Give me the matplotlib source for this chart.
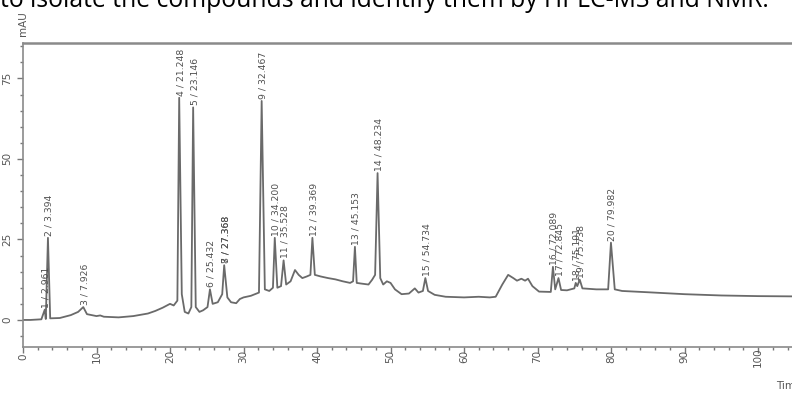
import numpy as np
from matplotlib import pyplot as plt

# baseline of the trace (time in min, signal in mAU)
base_t = [0, 1, 2.5, 3.1, 3.7, 5, 6.5, 7.5, 8.7, 10, 10.5, 11, 13, 15, 17, 18, 19, 20,
          20.5, 21.0, 21.6, 22, 22.5, 22.9, 23.5, 24, 24.5, 25.1, 25.8, 26.5, 27.1, 27.8,
          28.3, 29, 29.5, 30, 31, 32.1, 32.9, 33.5, 34.0, 34.6, 35.1, 35.8, 36.4, 37.0,
          37.5, 38.0, 38.6, 39.1, 39.7, 40.5, 41.5, 42.5, 43.5, 44.5, 44.9, 45.4, 46, 47,
          47.5, 47.9, 48.6, 49, 49.5, 50, 50.6, 51.5, 52.5, 53.3, 53.8, 54.4, 55.1, 56,
          57.5, 60, 62, 63.5, 64.3, 65.2, 66.0, 66.7, 67.2, 67.8, 68.3, 68.7, 69.3, 70.2,
          71.8, 72.4, 73.2, 74, 75, 75.4, 76.1, 78, 79.6, 80.5, 81.5, 85, 90, 95, 100, 106]
base_y = [0, 0, 0.2, 0.3, 0.5, 0.6, 1.5, 2.5, 1.8, 1.2, 1.4, 1.0, 0.8, 1.2, 2.0, 2.8, 3.8, 5.0,
          4.5, 6, 8, 2.5, 2.0, 4, 4, 2.5, 3, 4, 5, 5.5, 8, 7,
          5.5, 5.2, 6.5, 7, 7.5, 8.5, 9.5, 9, 10, 10, 10.5, 11, 12, 15.5,
          14, 13, 13.5, 14, 14, 13.5, 13, 12.6, 12, 11.5, 12, 11.5, 11.3, 11,
          12.5, 14, 13, 11, 12, 11.5, 9.5, 8.0, 8.2, 9.8, 8.5, 9, 9, 7.8,
          7.2, 7.0, 7.2, 7.0, 7.2, 11, 14, 13, 12.2, 12.8, 12.2, 12.8, 10.5, 8.8,
          8.7, 9.5, 9.3, 9.2, 9.8, 10.5, 9.8, 9.5, 9.5, 9.5, 9.0, 8.6, 8.0, 7.6, 7.4, 7.3]

# integrated peaks
peak_ids = [1, 2, 3, 4, 5, 6, 7, 8, 9, 10, 11, 12, 13, 14, 15, 16, 17, 18, 19, 20]
peak_times = [2.961, 3.394, 8.2, 21.248, 23.146, 25.432, 27.368, 27.368, 32.467, 34.25,
              35.45, 39.369, 45.153, 48.234, 54.734, 72.089, 72.845, 75.191, 75.738, 79.982]
peak_rt_text = ['2.961', '3.394', '7.926', '21.248', '23.146', '25.432', '27.368', '27.368',
                '32.467', '34.200', '35.528', '39.369', '45.153', '48.234', '54.734',
                '72.089', '72.845', '75.191', '75.738', '79.982']
peak_heights = [3.2, 25.5, 4.0, 69, 66, 9.5, 17, 17, 68, 25.5, 18.5, 25.5, 22.7, 45.6, 13,
                16.5, 13, 11.5, 12.5, 24]

tr = np.array(base_t + peak_times[:6] + peak_times[7:])
yr = np.array(base_y + peak_heights[:6] + peak_heights[7:])
order = np.argsort(tr, kind='stable')
tr, yr = tr[order], yr[order]

grey = '#6a6a6a'
fig = plt.figure(figsize=(7.92, 3.94), dpi=100)
ax = fig.add_axes([23 / 792, 47 / 394, 777 / 792, 304 / 394])
ax.plot(tr, yr, color=grey, lw=1.3)

for pid, pt, ph, txt in zip(peak_ids, peak_times, peak_heights, peak_rt_text):
    ax.annotate('%d / %s' % (pid, txt), (pt, ph), xytext=(1, 1.5), textcoords='offset points',
                rotation=90, ha='center', va='bottom', fontsize=6.7, color='#505050')

ax.set_xlim(0, 105.7)
ax.set_ylim(-8.4, 86.0)
ax.set_xticks(np.arange(0, 101, 10))
ax.set_xticks(np.arange(0, 106, 2), minor=True)
ax.set_yticks([0, 25, 50, 75])
ax.set_yticks(np.arange(-5, 86, 5), minor=True)
ax.tick_params(axis='both', which='both', direction='out', colors='#777777',
               labelcolor='#555555', labelsize=7.5)
ax.tick_params(axis='both', which='major', length=4, width=1)
ax.tick_params(axis='both', which='minor', length=2.5, width=1)
for lab in ax.get_xticklabels() + ax.get_yticklabels():
    lab.set_rotation(90)
    lab.set_va('center')
ax.tick_params(axis='y', pad=4)
ax.tick_params(axis='x', pad=3)
for s in ['left', 'bottom', 'top']:
    ax.spines[s].set_color('#8a8a8a')
ax.spines['top'].set_linewidth(1.8)
ax.spines['left'].set_linewidth(1.2)
ax.spines['bottom'].set_linewidth(1.2)
ax.spines['right'].set_visible(False)

fig.text(23 / 792, 1 - 24 / 394, 'mAU', rotation=90, fontsize=7.5, color='#555555',
         ha='center', va='center')
fig.text(776 / 792, 9 / 394, 'Time [min]', fontsize=7.5, color='#555555',
         ha='left', va='center')
fig.text(0, 1 - 7 / 394, 'to isolate the compounds and identify them by HPLC-MS and NMR.',
         fontsize=17.8, family='Open Sans', color='black', ha='left', va='baseline')

fig.savefig('out.png', dpi=100)
